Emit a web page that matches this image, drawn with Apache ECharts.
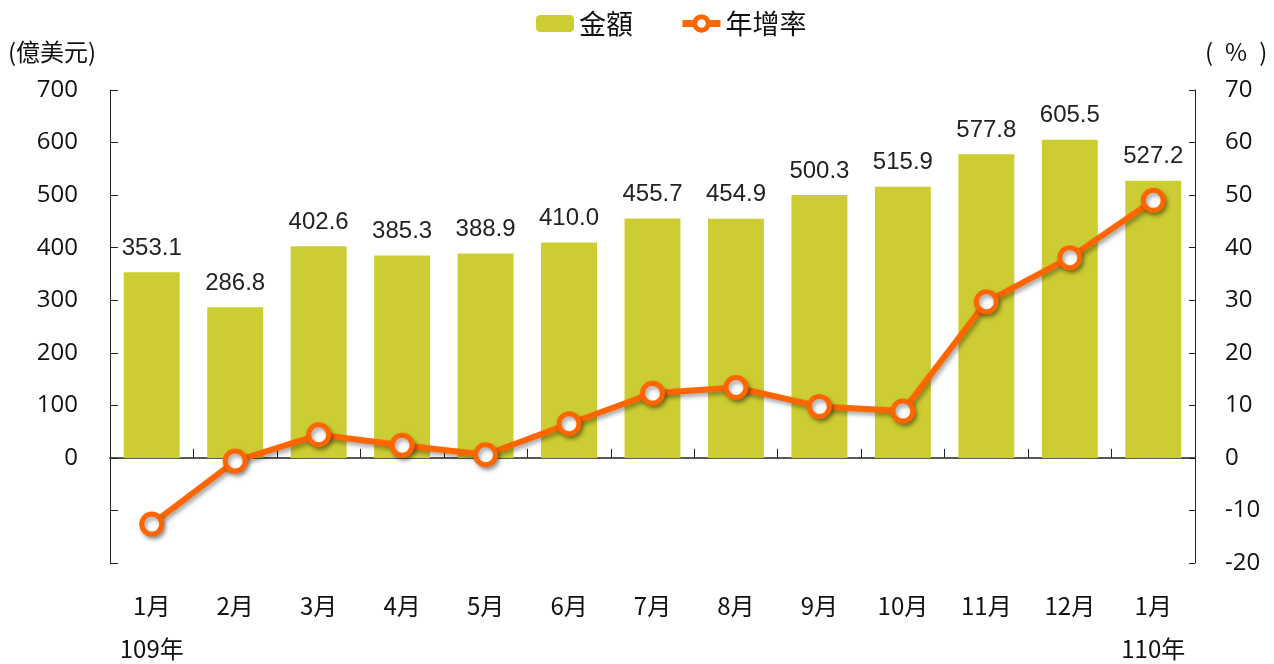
<!DOCTYPE html>
<html><head><meta charset="utf-8">
<script src="https://cdn.jsdelivr.net/npm/echarts@6/dist/echarts.min.js"></script>
<style>html,body{margin:0;padding:0;background:#fff;}#c{width:1274px;height:664px;}</style>
</head><body><div id="c"></div>
<script>
const categories = ['1月\n109年','2月','3月','4月','5月','6月','7月','8月','9月','10月','11月','12月','1月\n110年'];
const amount = [353.1,286.8,402.6,385.3,388.9,410.0,455.7,454.9,500.3,515.9,577.8,605.5,527.2];
const growth = [-12.6,-0.6,4.4,2.4,0.6,6.5,12.3,13.4,9.8,8.9,29.7,38.1,49.0];
const leftTicks = {min:-200, max:700, interval:100};
const rightTicks = {min:-20, max:70, interval:10};

const FONT = '"Open Sans","Noto Sans CJK TC",sans-serif';
const CJK = '"Noto Sans CJK TC","Open Sans",sans-serif';
const chart = echarts.init(document.getElementById('c'));
chart.setOption({
  animation:false,
  textStyle:{fontFamily:FONT},
  legend:{
    top:5, left:531, itemGap:46, itemWidth:38, itemHeight:17,
    textStyle:{fontSize:27, color:'#111', fontFamily:CJK},
    lineStyle:{width:7},
    itemStyle:{borderWidth:5},
    data:[{name:'金額', itemStyle:{borderWidth:0}},{name:'年增率'}]
  },
  grid:{left:110, right:79, top:90, bottom:101, outerBoundsMode:'none', containLabel:false},
  xAxis:[{
    type:'category', data:categories, position:'bottom',
    axisLine:{show:false, onZero:false}, axisTick:{show:false},
    axisLabel:{fontSize:24, color:'#111', margin:21, lineHeight:43, fontFamily:CJK}
  },{
    type:'category', data:categories, position:'top',
    axisLine:{show:true, onZero:true, onZeroAxisIndex:0, lineStyle:{color:'#222', width:1.5}},
    axisTick:{show:true, inside:false, length:9, lineStyle:{color:'#222'}},
    axisLabel:{show:false}
  }],
  yAxis:[{
    type:'value', min:leftTicks.min, max:leftTicks.max, interval:leftTicks.interval,
    name:'(億美元)', nameLocation:'end', nameGap:26,
    nameTextStyle:{fontSize:24, color:'#111', align:'left', padding:[0,0,0,-102], fontFamily:CJK},
    axisLine:{show:true, lineStyle:{color:'#222'}},
    axisTick:{show:true, inside:true, length:8, lineStyle:{color:'#222'}},
    splitLine:{show:false},
    axisLabel:{fontSize:24, color:'#111', margin:32, formatter:v=>v<0?'':String(v)}
  },{
    type:'value', min:rightTicks.min, max:rightTicks.max, interval:rightTicks.interval,
    name:'(\u2002%\u2002)', nameLocation:'end', nameGap:26,
    nameTextStyle:{fontSize:24, color:'#111', align:'left', padding:[0,0,0,10], fontFamily:CJK},
    axisLine:{show:true, lineStyle:{color:'#222'}},
    axisTick:{show:true, inside:true, length:6, lineStyle:{color:'#222'}},
    splitLine:{show:false},
    axisLabel:{fontSize:24, color:'#111', margin:30}
  }],
  series:[{
    name:'金額', type:'bar', xAxisIndex:0, yAxisIndex:0, data:amount,
    barWidth:'67%',
    itemStyle:{color:'#CCCC33'},
    label:{show:true, position:'top', distance:12, fontSize:24, color:'#222',
      fontFamily:'"Liberation Sans",Arial,sans-serif', formatter:p=>p.value.toFixed(1)}
  },{
    name:'年增率', type:'line', xAxisIndex:0, yAxisIndex:1, data:growth,
    symbol:'circle', symbolSize:20, z:5,
    lineStyle:{color:'#FF6600', width:6, shadowColor:'rgba(0,0,0,0.35)', shadowBlur:4, shadowOffsetX:2, shadowOffsetY:3},
    itemStyle:{color:'#fff', borderColor:'#FF6600', borderWidth:5, shadowColor:'rgba(0,0,0,0.35)', shadowBlur:4, shadowOffsetX:2, shadowOffsetY:3}
  }]
});
</script></body></html>
